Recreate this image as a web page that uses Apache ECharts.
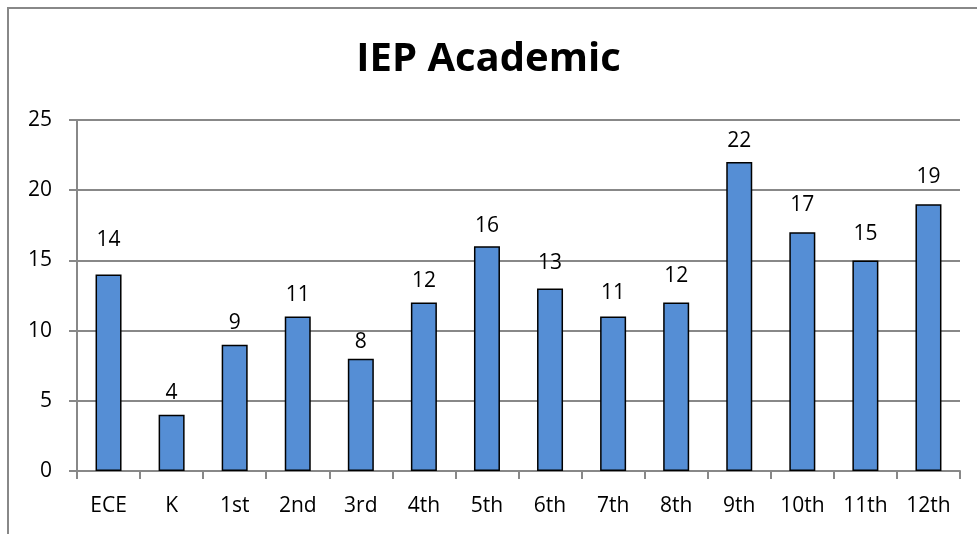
<!DOCTYPE html>
<html lang="en">
  <head>
    <meta charset="UTF-8" />
    <title>IEP Academic</title>
    <script src="https://cdn.jsdelivr.net/npm/echarts@6/dist/echarts.min.js"></script>
    <style>
      * {
        margin: 0;
        padding: 0;
      }
      body {
        background: #fff;
      }
    </style>
  </head>
  <body>
    <div id="main" style="height: 534px; width: 977px"></div>
    <script>
      var grades = ['ECE', 'K', '1st', '2nd', '3rd', '4th', '5th', '6th', '7th', '8th', '9th', '10th', '11th', '12th'];
      var counts = [14, 4, 9, 11, 8, 12, 16, 13, 11, 12, 22, 17, 15, 19];
      var yTicks = [0, 5, 10, 15, 20, 25];
      // label gaps above each bar (the labels were nudged by hand in the original)
      var labelGap = [24, 11, 11, 11, 6, 11, 10, 15, 13, 16, 11, 17, 16, 17];

      var myChart = echarts.init(document.getElementById('main'));
      var font = 'Open Sans';
      var barData = counts.map(function (v, i) {
        return { value: v, label: { distance: labelGap[i] } };
      });
      myChart.setOption({
        animation: false,
        title: {
          text: 'IEP Academic',
          left: 'center',
          top: 35,
          textStyle: {
            fontFamily: font,
            fontSize: 40,
            fontWeight: 'bold',
            color: '#000'
          }
        },
        graphic: [
          {
            type: 'polyline',
            shape: { points: [[8, 534], [8, 8], [977, 8]] },
            style: { stroke: '#888', lineWidth: 2, fill: null }
          }
        ],
        grid: {
          left: 77,
          right: 17,
          top: 120,
          bottom: 63
        },
        xAxis: {
          type: 'category',
          data: grades,
          axisLine: { lineStyle: { color: '#888', width: 2 } },
          axisTick: { show: true, length: 8, lineStyle: { color: '#888', width: 2 } },
          axisLabel: {
            fontFamily: font,
            fontSize: 21,
            color: '#000',
            margin: 25
          }
        },
        yAxis: {
          type: 'value',
          min: yTicks[0],
          max: yTicks[yTicks.length - 1],
          interval: 5,
          axisLine: { show: true, lineStyle: { color: '#888', width: 2 } },
          axisTick: { show: true, length: 8, lineStyle: { color: '#888', width: 2 } },
          splitLine: { lineStyle: { color: '#888', width: 2 } },
          axisLabel: {
            fontFamily: font,
            fontSize: 21,
            color: '#000',
            margin: 25
          }
        },
        series: [
          {
            type: 'bar',
            data: barData,
            barWidth: 26,
            itemStyle: {
              color: '#558ed5',
              borderColor: '#000',
              borderWidth: 1.5
            },
            label: {
              show: true,
              position: 'top',
              fontFamily: font,
              fontSize: 21,
              color: '#000'
            }
          }
        ]
      });
    </script>
  </body>
</html>
